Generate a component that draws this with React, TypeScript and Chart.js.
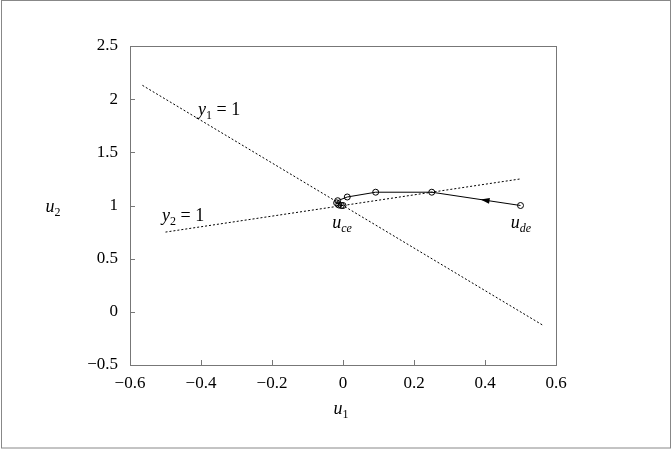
import React, { useEffect, useRef } from "react";
import { Chart, registerables } from "chart.js";

Chart.register(...registerables);

const xTickValues = [-0.6, -0.4, -0.2, 0, 0.2, 0.4, 0.6];
const yTickValues = [-0.5, 0, 0.5, 1, 1.5, 2, 2.5];

const trajU1 = [0.5, 0.25, 0.092, 0.012, -0.015, -0.018, -0.012, -0.005, 0.0];
const trajU2 = [1.0, 1.125, 1.125, 1.08, 1.045, 1.025, 1.005, 1.0, 1.0];

const line1U1 = [-0.565, 0.565];
const line1U2 = [2.13, -0.13];

const line2U1 = [-0.5, 0.5];
const line2U2 = [0.75, 1.25];

const FONT = "serif";

function toPts(xs: number[], ys: number[]) {
  return xs.map((x, i) => ({ x, y: ys[i] }));
}

function fmt(v: number) {
  const r = Math.round(v * 10) / 10;
  return String(r).replace("-", "\u2212");
}

function drawSub(ctx: CanvasRenderingContext2D, base: string, sub: string, rest: string, x: number, y: number, align: "left" | "center") {
  const subFont = (/^\d+$/.test(sub) ? "" : "italic ") + `12px ${FONT}`;
  ctx.font = `italic 18px ${FONT}`;
  const wb = ctx.measureText(base).width;
  ctx.font = subFont;
  const ws = ctx.measureText(sub).width;
  ctx.font = `18px ${FONT}`;
  const wr = rest ? ctx.measureText(rest).width : 0;
  const total = wb + ws + wr;
  let sx = align === "center" ? x - total / 2 : x;
  ctx.textAlign = "left";
  ctx.textBaseline = "alphabetic";
  ctx.font = `italic 18px ${FONT}`;
  ctx.fillText(base, sx, y);
  sx += wb;
  ctx.font = subFont;
  ctx.fillText(sub, sx, y + 4);
  sx += ws;
  if (rest) {
    ctx.font = `18px ${FONT}`;
    ctx.fillText(rest, sx, y);
  }
}

const annotPlugin = {
  id: "annot",
  afterDraw(chart: any) {
    const ctx: CanvasRenderingContext2D = chart.ctx;
    const xs = chart.scales.x;
    const ys = chart.scales.y;
    const a = chart.chartArea;
    ctx.save();
    ctx.strokeStyle = "#888";
    ctx.lineWidth = 1;
    ctx.strokeRect(1.5, 0.5, chart.width - 3, chart.height - 1.5);
    ctx.strokeStyle = "#777";
    ctx.strokeRect(Math.round(a.left) + 0.5, Math.round(a.top) + 0.5, Math.round(a.right - a.left), Math.round(a.bottom - a.top));
    ctx.beginPath();
    xTickValues.forEach((v) => {
      const px = Math.round(xs.getPixelForValue(v)) + 0.5;
      ctx.moveTo(px, a.bottom);
      ctx.lineTo(px, a.bottom - 5);
    });
    yTickValues.forEach((v) => {
      const py = Math.round(ys.getPixelForValue(v)) + 0.5;
      ctx.moveTo(a.left, py);
      ctx.lineTo(a.left + 5, py);
    });
    ctx.stroke();

    const x0 = xs.getPixelForValue(trajU1[0]);
    const y0 = ys.getPixelForValue(trajU2[0]);
    const x1 = xs.getPixelForValue(trajU1[1]);
    const y1 = ys.getPixelForValue(trajU2[1]);
    const t = 0.45;
    const mx = x0 + (x1 - x0) * t;
    const my = y0 + (y1 - y0) * t;
    const ang = Math.atan2(y1 - y0, x1 - x0);
    const L = 9, W = 3;
    ctx.fillStyle = "#000";
    ctx.beginPath();
    ctx.moveTo(mx, my);
    ctx.lineTo(mx - L * Math.cos(ang) - W * Math.sin(ang), my - L * Math.sin(ang) + W * Math.cos(ang));
    ctx.lineTo(mx - L * Math.cos(ang) + W * Math.sin(ang), my - L * Math.sin(ang) - W * Math.cos(ang));
    ctx.closePath();
    ctx.fill();

    ctx.fillStyle = "#000";
    drawSub(ctx, "y", "1", " = 1", 198, 115, "left");
    drawSub(ctx, "y", "2", " = 1", 162, 221, "left");
    drawSub(ctx, "u", "ce", "", 342, 228, "center");
    drawSub(ctx, "u", "de", "", 521, 228, "center");
    drawSub(ctx, "u", "2", "", 53, 212, "center");
    drawSub(ctx, "u", "1", "", 341, 414, "center");
    ctx.restore();
  },
};

export default function App() {
  const ref = useRef<HTMLCanvasElement>(null);
  useEffect(() => {
    const chart = new Chart(ref.current as HTMLCanvasElement, {
      type: "scatter",
      data: {
        datasets: [
          {
            data: toPts(line1U1, line1U2),
            showLine: true,
            borderColor: "#000",
            borderWidth: 1,
            borderDash: [2, 2],
            pointRadius: 0,
          },
          {
            data: toPts(line2U1, line2U2),
            showLine: true,
            borderColor: "#000",
            borderWidth: 1,
            borderDash: [2, 2],
            pointRadius: 0,
          },
          {
            data: toPts(trajU1, trajU2),
            showLine: true,
            borderColor: "#000",
            borderWidth: 1,
            pointRadius: 3,
            pointBorderWidth: 1,
            pointBorderColor: "#000",
            pointBackgroundColor: "rgba(255,255,255,0)",
          },
        ],
      },
      options: {
        responsive: false,
        animation: false,
        layout: { padding: { left: 0, top: 46, right: 116, bottom: 0 } },
        plugins: { legend: { display: false }, tooltip: { enabled: false } },
        scales: {
          x: {
            type: "linear",
            min: -0.6,
            max: 0.6,
            afterBuildTicks: (s: any) => {
              s.ticks = xTickValues.map((v) => ({ value: v }));
            },
            afterFit: (s: any) => {
              s.height = 84;
            },
            grid: { display: false, drawTicks: false },
            border: { display: false },
            ticks: {
              color: "#000",
              font: { family: FONT, size: 17 },
              padding: 8,
              maxRotation: 0,
              callback: (v: any) => fmt(Number(v)),
            },
          },
          y: {
            type: "linear",
            min: -0.5,
            max: 2.5,
            afterBuildTicks: (s: any) => {
              s.ticks = yTickValues.map((v) => ({ value: v }));
            },
            afterFit: (s: any) => {
              s.width = 130;
            },
            grid: { display: false, drawTicks: false },
            border: { display: false },
            ticks: {
              color: "#000",
              font: { family: FONT, size: 17 },
              padding: 12,
              callback: (v: any) => fmt(Number(v)),
            },
          },
        },
      },
      plugins: [annotPlugin],
    } as any);
    return () => {
      chart.destroy();
    };
  }, []);
  return (
    <div style={{ position: "absolute", left: 0, top: 0 }}>
      <canvas ref={ref} width={672} height={449} style={{ display: "block" }} />
    </div>
  );
}
